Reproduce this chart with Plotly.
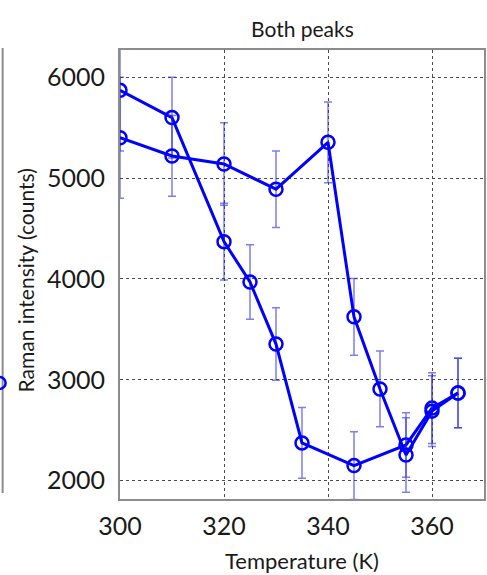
import plotly.graph_objects as go

# ---- data ----
temp_a = [300, 310, 320, 325, 330, 335, 345, 355, 360, 365]
int_a = [5870, 5600, 4370, 3970, 3355, 2375, 2150, 2355, 2720, 2870]
err_a = [600, 400, 380, 370, 360, 350, 335, 320, 350, 345]

temp_b = [300, 310, 320, 330, 340, 345, 350, 355, 360, 365]
int_b = [5400, 5220, 5140, 4890, 5355, 3625, 2910, 2255, 2690, 2870]
err_b = [600, 400, 410, 380, 400, 380, 375, 370, 350, 345]

x_ticks = [300, 320, 340, 360]
y_ticks = [2000, 3000, 4000, 5000, 6000]

title_text = "Both peaks"
x_label = "Temperature (K)"
y_label = "Raman intensity (counts)"

BLUE = "#0000ff"
ERR = "rgba(40,40,230,0.6)"
FONT = "Lato"
TXT = "#1a1a1a"

fig = go.Figure()
for xs, ys, es in [(temp_a, int_a, err_a), (temp_b, int_b, err_b)]:
    fig.add_trace(go.Scatter(
        x=xs, y=ys, mode="lines+markers",
        line=dict(color=BLUE, width=3),
        marker=dict(symbol="circle-open", size=13, color=BLUE, line=dict(width=2.5, color=BLUE)),
        error_y=dict(type="data", array=es, visible=True, color=ERR, thickness=1.5, width=4),
        showlegend=False,
    ))

W, H = 487, 575
ml, mr, mt, mb = 120, 1, 50, 76
pw = W - ml - mr
ph = H - mt - mb

fig.update_layout(
    width=W, height=H,
    margin=dict(l=ml, r=mr, t=mt, b=mb),
    paper_bgcolor="white", plot_bgcolor="white",
    font=dict(family=FONT, color=TXT),
    xaxis=dict(
        range=[300, 370], tickvals=x_ticks, ticks="",
        showgrid=True, gridcolor="#4a4a4a", griddash="dot", gridwidth=1,
        showline=True, mirror=True, linecolor="#8c8c8c", linewidth=2,
        zeroline=False, tickfont=dict(size=25, family=FONT, color=TXT),
        ticklabelstandoff=4, layer="below traces",
    ),
    yaxis=dict(
        range=[1819, 6270], tickvals=y_ticks, ticks="",
        showgrid=True, gridcolor="#4a4a4a", griddash="dot", gridwidth=1,
        showline=True, mirror=True, linecolor="#8c8c8c", linewidth=2,
        zeroline=False, tickfont=dict(size=25, family=FONT, color=TXT),
        ticklabelstandoff=8, layer="below traces",
    ),
    annotations=[
        dict(text=title_text, xref="paper", yref="paper", x=0.5, y=1,
             xanchor="center", yanchor="middle", yshift=22, showarrow=False,
             font=dict(size=21, family=FONT, color=TXT)),
        dict(text=x_label, xref="paper", yref="paper", x=0.5, y=0,
             xanchor="center", yanchor="middle", yshift=-61, showarrow=False,
             font=dict(size=22, family=FONT, color=TXT)),
        dict(text=y_label, xref="paper", yref="paper", x=0, y=0.5,
             xanchor="center", yanchor="middle", xshift=-95, yshift=-6, textangle=-90,
             showarrow=False, font=dict(size=21, family=FONT, color=TXT)),
    ],
    shapes=[
        # edge of neighbouring panel (cropped)
        dict(type="line", xref="paper", yref="paper",
             x0=(2 - ml) / pw, x1=(2 - ml) / pw,
             y0=(H - mb - 493) / ph, y1=(H - mb - 48) / ph,
             line=dict(color="#8c8c8c", width=2)),
        dict(type="circle", xref="paper", yref="paper",
             x0=(-7 - ml) / pw, x1=(5 - ml) / pw,
             y0=(H - mb - 389) / ph, y1=(H - mb - 377) / ph,
             line=dict(color=BLUE, width=2.5)),
    ],
)

fig.write_html("out.html")
